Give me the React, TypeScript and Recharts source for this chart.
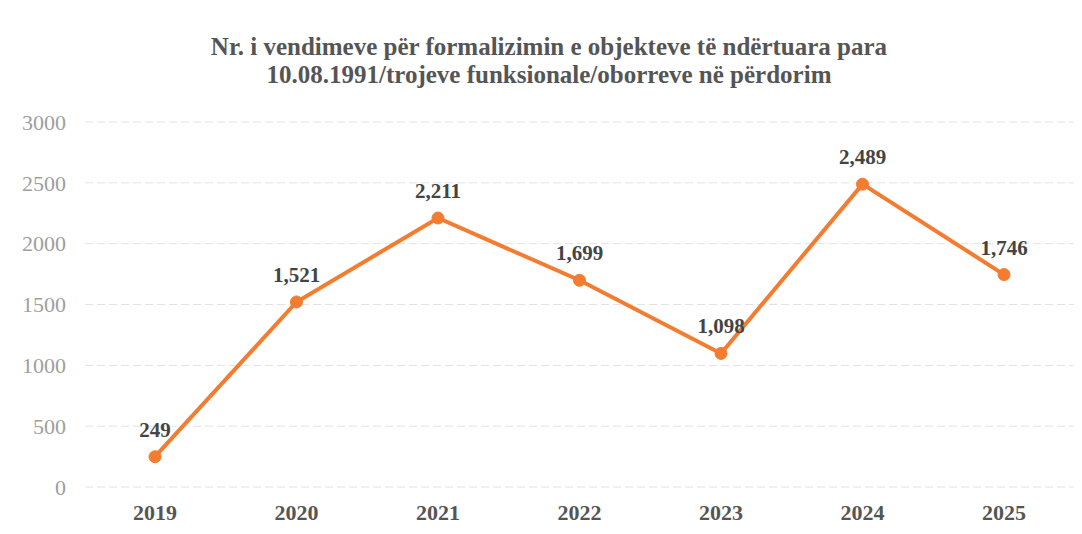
import { LineChart, Line, XAxis, YAxis, CartesianGrid, LabelList } from 'recharts';

const YEARS = ['2019', '2020', '2021', '2022', '2023', '2024', '2025'];
const DECISIONS = [249, 1521, 2211, 1699, 1098, 2489, 1746];
const Y_TICKS = [0, 500, 1000, 1500, 2000, 2500, 3000];

const TITLE_LINES = [
  'Nr. i vendimeve për formalizimin e objekteve të ndërtuara para',
  '10.08.1991/trojeve funksionale/oborreve në përdorim',
];

const FONT = '"Liberation Serif", "Times New Roman", serif';
const ORANGE = '#F47C30';

const data = YEARS.map((year, i) => ({ year, value: DECISIONS[i] }));

export default function App() {
  return (
    <div style={{ position: 'relative', width: 1082, height: 534, margin: -8, background: '#fff', fontFamily: FONT }}>
      <div
        style={{
          position: 'absolute',
          top: 33,
          left: 0,
          width: 1098,
          textAlign: 'center',
          fontSize: 25,
          fontWeight: 'bold',
          color: '#555',
          lineHeight: '28px',
        }}
      >
        {TITLE_LINES.map((t) => (
          <div key={t}>{t}</div>
        ))}
      </div>
      <LineChart width={1082} height={534} data={data} margin={{ top: 122, right: 7, bottom: 17, left: 0 }}>
        <CartesianGrid vertical={false} stroke="#e3e3e3" strokeDasharray="8 4" />
        <XAxis
          dataKey="year"
          axisLine={false}
          tickLine={false}
          tickSize={0}
          tickMargin={17}
          padding={{ left: 70, right: 71 }}
          tick={{ fill: '#555', fontSize: 22, fontWeight: 'bold', fontFamily: FONT }}
        />
        <YAxis
          width={85}
          domain={[0, 3000]}
          ticks={Y_TICKS}
          axisLine={false}
          tickLine={false}
          tickSize={0}
          tickMargin={19}
          tick={{ fill: '#9e9e9e', fontSize: 22, fontFamily: FONT }}
        />
        <Line
          type="linear"
          dataKey="value"
          stroke={ORANGE}
          strokeWidth={4}
          dot={{ r: 6, fill: ORANGE, stroke: ORANGE, strokeWidth: 1 }}
          isAnimationActive={false}
        >
          <LabelList
            dataKey="value"
            position="top"
            offset={20}
            formatter={(v: any) => Number(v).toLocaleString('en-US')}
            style={{ fill: '#444', fontSize: 21, fontWeight: 'bold', fontFamily: FONT }}
          />
        </Line>
      </LineChart>
    </div>
  );
}
